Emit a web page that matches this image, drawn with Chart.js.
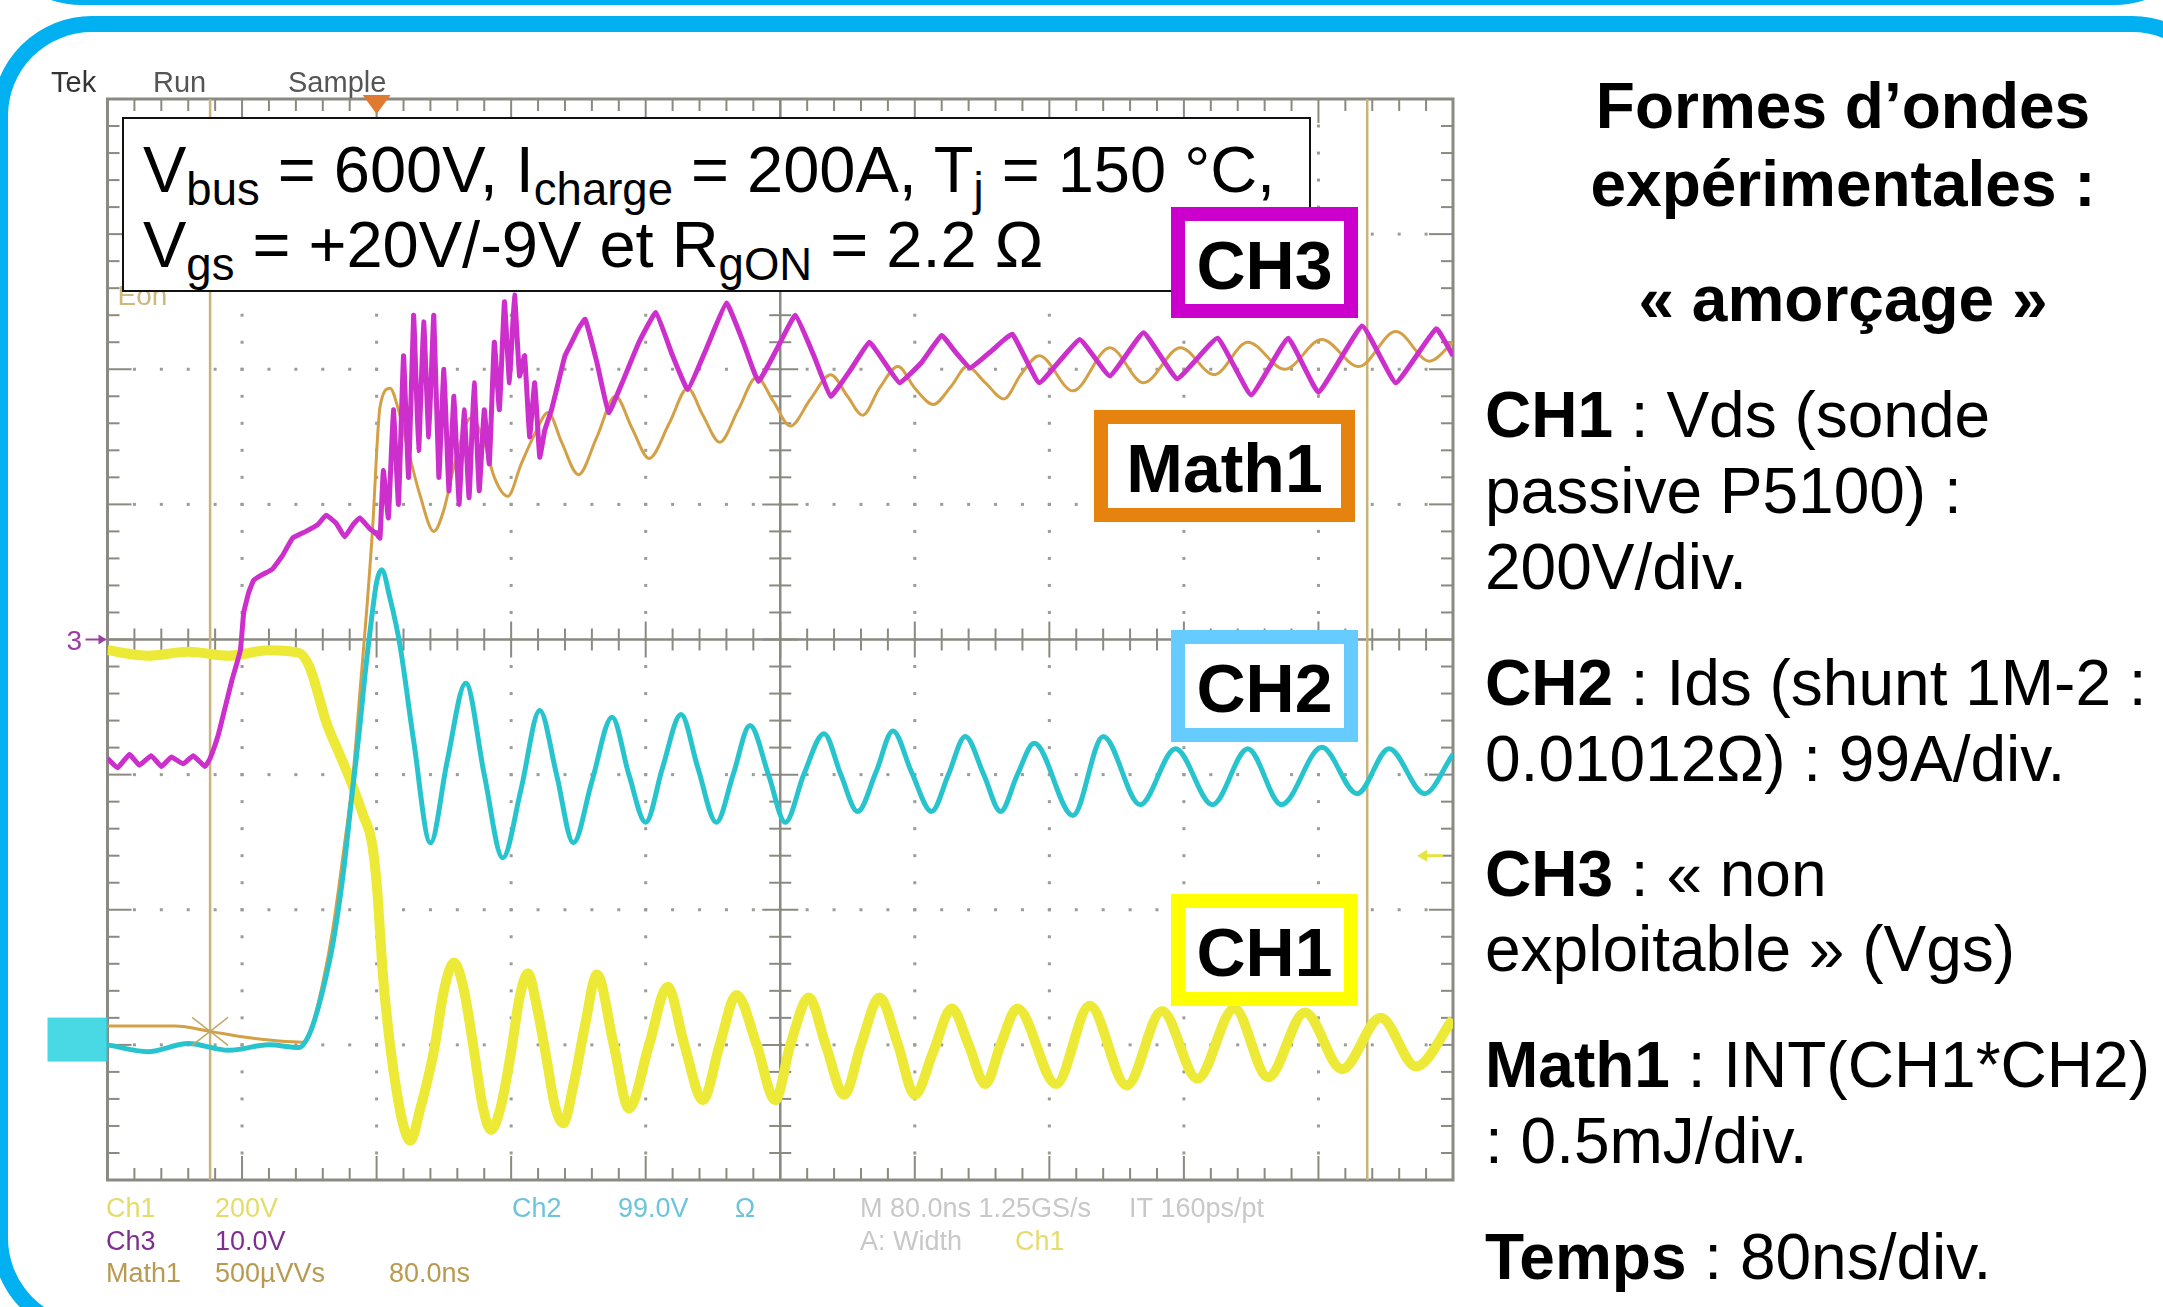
<!DOCTYPE html>
<html lang="fr">
<head>
<meta charset="utf-8">
<title>Formes d'ondes expérimentales : amorçage</title>
<script src="https://cdn.jsdelivr.net/npm/chart.js@4.4.1/dist/chart.umd.min.js"></script>
<style>
    html, body {
        margin: 0;
        padding: 0;
        width: 2163px;
        height: 1307px;
        overflow: hidden;
        background: #fff;
        font-family: "Liberation Sans", Arial, sans-serif;
        color: #000;
    }
    #scope { position: absolute; left: 0; top: 0; }
    .frame {
        position: absolute;
        box-sizing: border-box;
        border: 16px solid #00b0f0;
        border-radius: 100px;
    }
    #frameTop { left: -18px; top: -400px; width: 2232px; height: 405px; border-width: 14px; }
    #frameMain { left: -8px; top: 16px; width: 2240px; height: 1322px; }

    #conditions {
        position: absolute;
        left: 122px; top: 117px;
        width: 1189px; height: 175px;
        box-sizing: border-box;
        border: 2px solid #111;
        background: #fff;
    }
    #conditions .line {
        position: absolute;
        left: 19px;
        font-size: 65px;
        line-height: 1;
        white-space: nowrap;
    }
    #conditions sub {
        font-size: 0.7em;
        vertical-align: -0.29em;
        line-height: 0;
    }

    .tag {
        position: absolute;
        box-sizing: border-box;
        border: 14px solid;
        background: #fff;
        display: flex;
        align-items: center;
        justify-content: center;
        font-weight: bold;
        font-size: 68px;
        line-height: 1;
        padding-top: 4px;
    }
    #tagCh3 { left: 1171px; top: 207px; width: 187px; height: 111px; border-color: #cc00cc; }
    #tagMath { left: 1094px; top: 410px; width: 261px; height: 112px; border-color: #e6820e; }
    #tagCh2 { left: 1171px; top: 630px; width: 187px; height: 112px; border-color: #66ccff; }
    #tagCh1 { left: 1171px; top: 894px; width: 187px; height: 112px; border-color: #ffff00; }

    .panel {
        position: absolute;
        font-size: 64px;
        line-height: 1;
        white-space: nowrap;
    }
    .panel.title { left: 1507px; width: 672px; text-align: center; font-weight: bold; }
    .panel.body { left: 1485px; }
</style>
</head>
<body>
<canvas id="scope" width="1480" height="1307"></canvas>

<div id="conditions">
    <div class="line" style="top: 18px;">V<sub>bus</sub> = 600V, I<sub>charge</sub> = 200A, T<sub>j</sub> = 150 °C,</div>
    <div class="line" style="top: 93px;">V<sub>gs</sub> = +20V/-9V et R<sub>gON</sub> = 2.2 Ω</div>
</div>

<div class="tag" id="tagCh3">CH3</div>
<div class="tag" id="tagMath">Math1</div>
<div class="tag" id="tagCh2">CH2</div>
<div class="tag" id="tagCh1">CH1</div>

<div class="panel title" style="top: 74px;">Formes d’ondes</div>
<div class="panel title" style="top: 152px;">expérimentales :</div>
<div class="panel title" style="top: 267px;">« amorçage »</div>
<div class="panel body" style="top: 383px;"><b>CH1</b> : Vds (sonde</div>
<div class="panel body" style="top: 459px;">passive P5100) :</div>
<div class="panel body" style="top: 535px;">200V/div.</div>
<div class="panel body" style="top: 651px;"><b>CH2</b> : Ids (shunt 1M-2 :</div>
<div class="panel body" style="top: 727px;">0.01012Ω) : 99A/div.</div>
<div class="panel body" style="top: 842px;"><b>CH3</b> : «&nbsp;non</div>
<div class="panel body" style="top: 917px;">exploitable » (Vgs)</div>
<div class="panel body" style="top: 1033px;"><b>Math1</b> : INT(CH1*CH2)</div>
<div class="panel body" style="top: 1109px;">: 0.5mJ/div.</div>
<div class="panel body" style="top: 1225px;"><b>Temps</b> : 80ns/div.</div>

<div class="frame" id="frameTop"></div>
<div class="frame" id="frameMain"></div>

<script>
// Time base: 80 ns/div over 10 divisions
const timeMin = 0;
const timeMax = 800;

// Channel settings: units per division, ground position (divisions from centre)
const ch1PerDiv = 200,  ch1Position = -3.05;   // V
const ch2PerDiv = 99,   ch2Position = -3.02;   // A
const ch3PerDiv = 10,   ch3Position = 0;       // V
const mathPerDiv = 0.5, mathPosition = -2.88;  // mJ

// CH1 : Vds (V)
const ch1Time = [0, 24, 48, 72, 96, 114, 120, 124, 130, 138, 145, 152, 157, 160,
    164, 168, 172, 176, 180, 186, 194, 200, 206, 212, 218, 223, 228, 234, 240,
    245, 250, 255, 261, 266, 271, 277, 284, 291, 301, 310, 322, 333, 343, 354, 364,
    374, 386, 397, 406, 417, 427, 438, 448, 459, 470, 480, 491, 502, 512, 522, 531, 541,
    564, 584, 606, 627, 648, 670, 690, 712, 734, 757, 778, 800];
const ch1Volts = [594, 586, 592, 586, 594, 590, 570, 540, 488, 440, 398, 350, 312, 250,
    106, 10, -60, -110, -132, -84, 0, 90, 132, 90, 0, -80, -116, -80, 0,
    80, 116, 70, -10, -80, -106, -50, 40, 114, 10, -84, 10, 96, 10, -72, 10,
    84, 10, -72, 10, 80, 10, -64, 10, 80, 10, -64, 0, 64, 10, -48, 10, 64,
    -48, 68, -50, 60, -40, 64, -38, 58, -26, 50, -22, 48];

// CH2 : Ids (A)
const ch2Time = [0, 24, 48, 72, 96, 114, 118, 122, 128, 134, 140, 145, 150, 153, 157, 160, 163,
    168, 174, 182, 192, 202, 213, 224, 235, 246, 257, 267, 277, 288, 300, 310, 320, 330,
    341, 351, 362, 372, 382, 393, 403, 414, 426, 436, 446, 457, 467, 478, 490, 500, 510,
    521, 531, 541, 551, 574, 592, 614, 635, 657, 678, 698, 722, 743, 762, 783, 800];
const ch2Amps = [2, -3, 3, -2, 2, 0, 5, 16, 42, 76, 126, 181, 235, 272, 314, 341, 350,
    329, 294, 225, 150, 210, 267, 200, 139, 190, 247, 200, 150, 195, 242, 200, 165, 205,
    244, 205, 165, 200, 236, 200, 165, 200, 230, 200, 173, 202, 232, 202, 173, 200, 228,
    200, 173, 200, 223, 170, 228, 178, 219, 178, 219, 178, 220, 186, 219, 186, 215];

// CH3 : Vgs (V)
const ch3Time = [0, 6, 13, 19, 26, 32, 38, 45, 51, 58, 61,
    66, 70, 74, 79, 81, 84, 87, 92, 98, 104, 110, 118, 125, 130, 136, 141, 146, 150, 156, 160, 162,
    164, 167, 170, 173, 176, 179, 182, 185, 188, 191, 194, 197, 200, 203, 206, 209, 212,
    215, 218, 221, 224, 227, 230, 233, 236, 239, 242, 245, 248, 251, 254, 257, 260,
    264, 268, 272, 276, 280, 284, 291, 298, 306, 316, 326, 336, 345, 356, 368, 378,
    387, 398, 409, 420, 430, 442, 453, 462, 471, 484, 496, 504, 513, 526, 538, 554,
    578, 596, 616, 636, 660, 680, 702, 720, 746, 766, 790, 800];
const ch3Volts = [-8.8, -9.5, -8.5, -9.3, -8.6, -9.4, -8.7, -9.2, -8.6, -9.4, -8.8,
    -7.0, -5.0, -3.0, -0.8, 2.0, 3.5, 4.4, 4.8, 5.2, 6.2, 7.5, 8.0, 8.5, 9.2, 8.6, 7.6, 8.5, 9.0, 8.2, 7.8, 7.5,
    12.5, 9, 17, 10, 21, 12, 24, 14, 23.5, 15, 24, 12, 20, 11, 18, 10, 17,
    10.5, 19, 11, 17, 13, 22, 17, 25, 19, 25.5, 19.5, 21, 15, 19, 13.5, 15.5,
    17, 19, 21, 22, 23, 23.7, 20.5, 16.8, 19, 22, 24.2, 21, 18.5, 21.5, 24.9, 22,
    19.1, 21.5, 24, 21, 18, 20, 22, 20.5, 19, 20.5, 22.5, 21.3, 20.1, 21.4, 22.6, 19,
    22.2, 19.5, 22.7, 19.3, 22.3, 18.1, 22.3, 18.3, 23.2, 19, 23, 21];

// Math1 : INT(CH1*CH2) (mJ)
const mathTime = [0, 40, 61, 80, 116, 122, 128, 134, 140, 146, 150, 154, 158, 160, 162,
    168, 173, 178, 186, 194, 200, 206, 216, 224, 230, 238, 246, 254, 262, 270, 280,
    291, 302, 312, 322, 334, 345, 354, 364, 375, 386, 396, 406, 418, 430, 440, 449,
    459, 470, 480, 491, 502, 511, 522, 533, 543, 554, 574, 596, 616, 638, 658, 678,
    700, 722, 744, 766, 786, 800];
const mathEnergy = [0.01, 0.01, -0.01, -0.03, -0.05, 0.02, 0.17, 0.37, 0.64, 0.94, 1.24, 1.54, 1.89, 2.13, 2.3,
    2.37, 2.29, 2.16, 1.97, 1.84, 1.92, 2.08, 2.26, 2.17, 2.04, 1.97, 2.09, 2.2, 2.28, 2.17, 2.05,
    2.19, 2.34, 2.22, 2.11, 2.24, 2.37, 2.27, 2.17, 2.29, 2.41, 2.32, 2.23, 2.33, 2.42, 2.34, 2.27,
    2.37, 2.45, 2.37, 2.31, 2.38, 2.45, 2.39, 2.33, 2.42, 2.49, 2.36, 2.52, 2.39, 2.52, 2.42, 2.54,
    2.44, 2.55, 2.45, 2.58, 2.47, 2.54];

// Cursors, trigger
const cursorTimes = [61, 749];
const triggerTime = 160;
const triggerLevel = 290; // V on CH1

// Scope status texts
const headerLabels = [['Tek', 51, '#333'], ['Run', 153, '#555'], ['Sample', 288, '#555']];
const footerLabels = [
    ['Ch1', 106, 0, '#e4dc6a'], ['200V', 215, 0, '#e4dc6a'],
    ['Ch2', 512, 0, '#6cc4da'], ['99.0V', 618, 0, '#6cc4da'], ['Ω', 735, 0, '#6cc4da'],
    ['M 80.0ns 1.25GS/s', 860, 0, '#c8c8c8'], ['IT 160ps/pt', 1129, 0, '#c8c8c8'],
    ['Ch3', 106, 1, '#7e2e8e'], ['10.0V', 215, 1, '#7e2e8e'],
    ['A: Width', 860, 1, '#c8c8c8'], ['Ch1', 1015, 1, '#e4dc6a'],
    ['Math1', 106, 2, '#b89a50'], ['500µVVs', 215, 2, '#b89a50'], ['80.0ns', 389, 2, '#b89a50']
];

function toPoints(times, values) {
    return times.map((t, i) => ({ x: t, y: values[i] }));
}

function channelScale(perDiv, position) {
    return {
        type: 'linear', axis: 'y', position: 'left', display: false,
        min: (-4 - position) * perDiv, max: (4 - position) * perDiv
    };
}

function strokeLine(ctx, x1, y1, x2, y2) {
    ctx.beginPath();
    ctx.moveTo(x1, y1);
    ctx.lineTo(x2, y2);
    ctx.stroke();
}

// Scope graticule, cursors and markers
const scopeScreen = {
    id: 'scopeScreen',
    beforeDatasetsDraw(chart) {
        const { ctx, chartArea: area, scales } = chart;
        const px = t => scales.x.getPixelForValue(t);
        const py = d => scales.div.getPixelForValue(d);
        ctx.save();

        // dotted division lines
        ctx.fillStyle = '#9c9c96';
        for (let i = 1; i < 10; i++) {
            if (i === 5) continue;
            const x = px(i * 80);
            for (let k = 1; k < 40; k++) ctx.fillRect(x - 1.5, py(-4 + k * 0.2) - 1.5, 3, 3);
        }
        for (let j = -3; j <= 3; j++) {
            if (j === 0) continue;
            const y = py(j);
            for (let k = 1; k < 50; k++) ctx.fillRect(px(k * 16) - 1.5, y - 1.5, 3, 3);
        }

        // border and centre cross
        ctx.strokeStyle = '#8a8a82';
        ctx.lineWidth = 3;
        ctx.strokeRect(area.left, area.top, area.width, area.height);
        const cx = px(400), cy = py(0);
        ctx.lineWidth = 2.5;
        strokeLine(ctx, area.left, cy, area.right, cy);
        strokeLine(ctx, cx, area.top, cx, area.bottom);

        ctx.lineWidth = 2;
        for (let k = 1; k < 50; k++) {
            const x = px(k * 16), major = k % 5 === 0;
            const len = major ? 24 : 12, half = major ? 18 : 11;
            strokeLine(ctx, x, area.top, x, area.top + len);
            strokeLine(ctx, x, area.bottom, x, area.bottom - len);
            strokeLine(ctx, x, cy - half, x, cy + half);
        }
        for (let k = 1; k < 40; k++) {
            const y = py(-4 + k * 0.2), major = k % 5 === 0;
            const len = major ? 24 : 12, half = major ? 18 : 11;
            strokeLine(ctx, area.left, y, area.left + len, y);
            strokeLine(ctx, area.right, y, area.right - len, y);
            strokeLine(ctx, cx - half, y, cx + half, y);
        }

        // cursors
        ctx.strokeStyle = '#c8b47a';
        ctx.lineWidth = 2.5;
        cursorTimes.forEach(t => strokeLine(ctx, px(t), area.top, px(t), area.bottom));

        // Eon readout (partly under the conditions box)
        ctx.fillStyle = '#cdb87e';
        ctx.font = '28px "Liberation Sans", Arial, sans-serif';
        ctx.fillText('Eon', area.left + 10, area.top + 206);
        ctx.restore();
    },
    afterDatasetsDraw(chart) {
        const { ctx, chartArea: area, scales } = chart;
        const px = t => scales.x.getPixelForValue(t);
        ctx.save();

        // cursor mark on Math1
        const mx = px(cursorTimes[0]);
        const my = scales.yMath.getPixelForValue(mathEnergy[mathTime.indexOf(cursorTimes[0])]);
        ctx.strokeStyle = '#c0a868';
        ctx.lineWidth = 1.5;
        strokeLine(ctx, mx - 18, my - 14, mx + 18, my + 14);
        strokeLine(ctx, mx - 18, my + 14, mx + 18, my - 14);

        // channel ground markers
        const cy3 = scales.yCh3.getPixelForValue(0);
        ctx.fillStyle = '#9a40a0';
        ctx.strokeStyle = '#9a40a0';
        ctx.font = '28px "Liberation Sans", Arial, sans-serif';
        ctx.fillText('3', area.left - 41, cy3 + 10);
        ctx.lineWidth = 2;
        strokeLine(ctx, area.left - 22, cy3, area.left - 2, cy3);
        ctx.beginPath();
        ctx.moveTo(area.left - 1, cy3);
        ctx.lineTo(area.left - 9, cy3 - 5);
        ctx.lineTo(area.left - 9, cy3 + 5);
        ctx.closePath();
        ctx.fill();

        const cy2 = scales.yCh2.getPixelForValue(0);
        ctx.fillStyle = 'rgba(40, 210, 225, 0.85)';
        ctx.fillRect(area.left - 60, cy2 - 30, 60, 44);

        // trigger level
        const ty = scales.yCh1.getPixelForValue(triggerLevel);
        ctx.strokeStyle = '#e6e440';
        ctx.fillStyle = '#e6e440';
        ctx.lineWidth = 3;
        strokeLine(ctx, area.right - 30, ty, area.right - 10, ty);
        ctx.beginPath();
        ctx.moveTo(area.right - 36, ty);
        ctx.lineTo(area.right - 26, ty - 6);
        ctx.lineTo(area.right - 26, ty + 6);
        ctx.closePath();
        ctx.fill();

        // trigger position
        const tx = px(triggerTime);
        ctx.fillStyle = '#e07a30';
        ctx.beginPath();
        ctx.moveTo(tx - 14, area.top - 4);
        ctx.lineTo(tx + 14, area.top - 4);
        ctx.lineTo(tx, area.top + 15);
        ctx.closePath();
        ctx.fill();
        ctx.restore();
    },
    afterDraw(chart) {
        const { ctx } = chart;
        ctx.save();
        ctx.font = '29px "Liberation Sans", Arial, sans-serif';
        headerLabels.forEach(([text, x, color]) => {
            ctx.fillStyle = color;
            ctx.fillText(text, x, 92);
        });
        ctx.font = '27px "Liberation Sans", Arial, sans-serif';
        const rows = [1217, 1250, 1282];
        footerLabels.forEach(([text, x, row, color]) => {
            ctx.fillStyle = color;
            ctx.fillText(text, x, rows[row]);
        });
        ctx.restore();
    }
};

const scopeCtx = document.getElementById('scope').getContext('2d');
new Chart(scopeCtx, {
    type: 'line',
    data: {
        datasets: [{
            label: 'CH3',
            data: toPoints(ch3Time, ch3Volts),
            yAxisID: 'yCh3',
            borderColor: '#cc2fcc',
            borderWidth: 5,
            tension: 0.1
        }, {
            label: 'CH2',
            data: toPoints(ch2Time, ch2Amps),
            yAxisID: 'yCh2',
            borderColor: '#27c4ce',
            borderWidth: 5,
            cubicInterpolationMode: 'monotone'
        }, {
            label: 'Math1',
            data: toPoints(mathTime, mathEnergy),
            yAxisID: 'yMath',
            borderColor: '#d3a046',
            borderWidth: 3,
            cubicInterpolationMode: 'monotone'
        }, {
            label: 'CH1',
            data: toPoints(ch1Time, ch1Volts),
            yAxisID: 'yCh1',
            borderColor: '#ecea36',
            borderWidth: 10,
            cubicInterpolationMode: 'monotone'
        }]
    },
    options: {
        responsive: false,
        animation: false,
        devicePixelRatio: 1,
        layout: {
            padding: { left: 107.5, top: 99, right: 27, bottom: 127 }
        },
        elements: {
            point: { radius: 0 }
        },
        plugins: {
            legend: { display: false },
            tooltip: { enabled: false }
        },
        scales: {
            x: { type: 'linear', axis: 'x', position: 'bottom', display: false, min: timeMin, max: timeMax },
            div: { type: 'linear', axis: 'y', position: 'left', display: false, min: -4, max: 4 },
            yCh1: channelScale(ch1PerDiv, ch1Position),
            yCh2: channelScale(ch2PerDiv, ch2Position),
            yCh3: channelScale(ch3PerDiv, ch3Position),
            yMath: channelScale(mathPerDiv, mathPosition)
        }
    },
    plugins: [scopeScreen]
});
</script>
</body>
</html>
